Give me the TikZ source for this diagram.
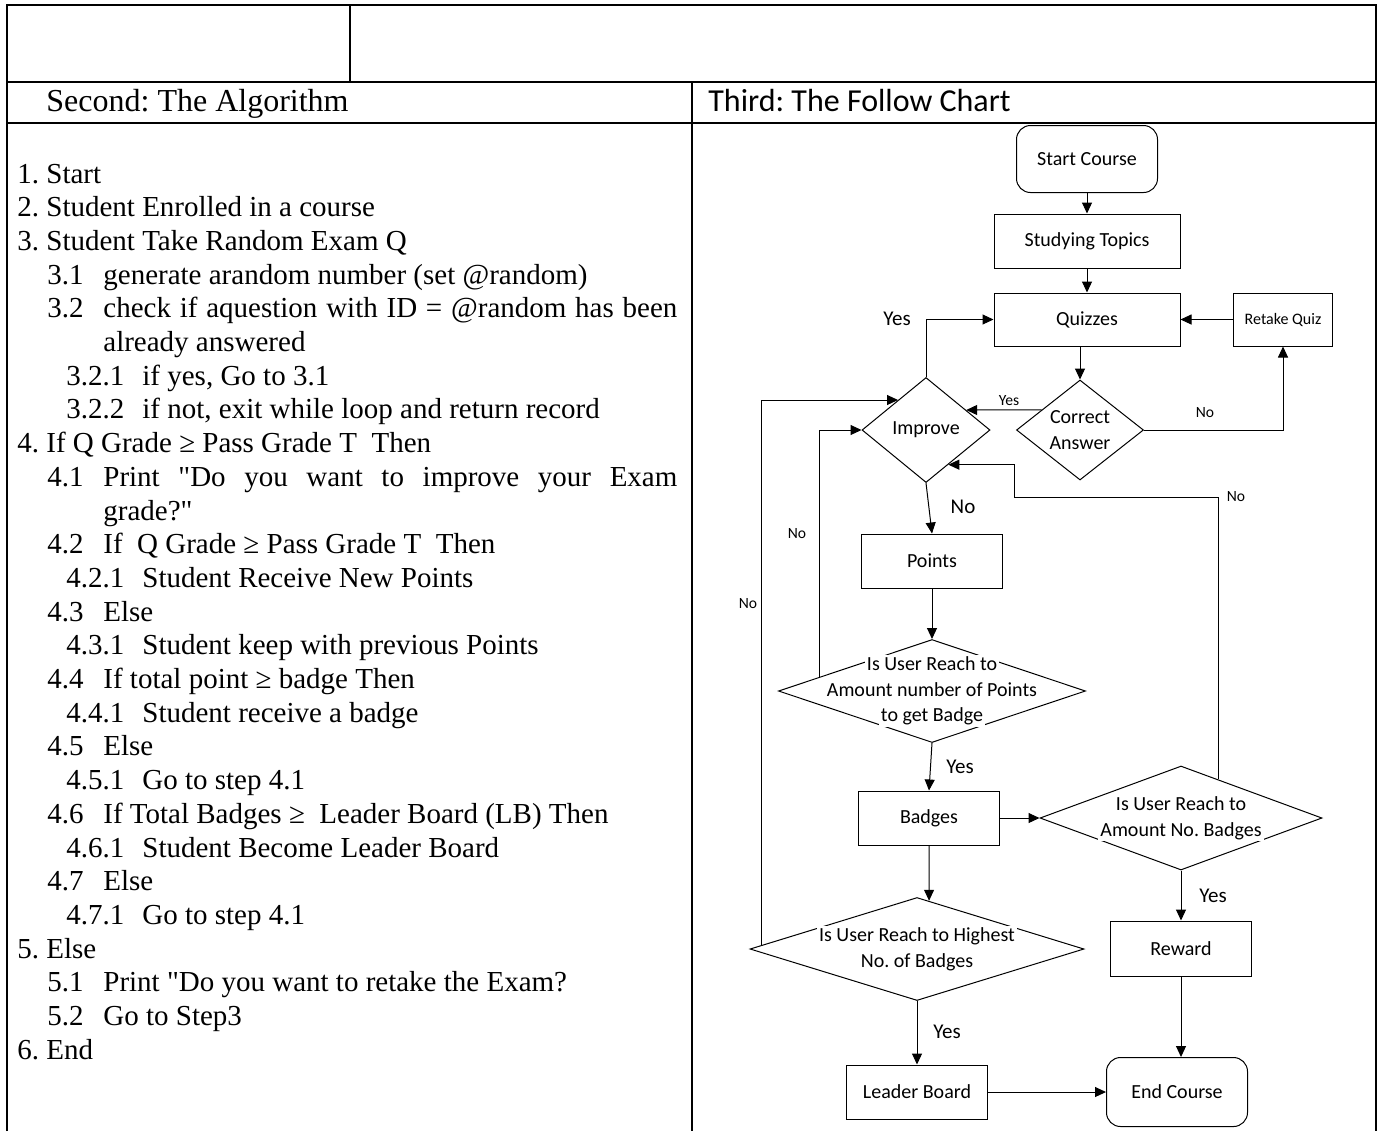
\documentclass[tikz,border=0pt]{standalone}
\usepackage{fontspec}
\setmainfont{Liberation Serif}
\newfontfamily\chartfont{Carlito}
\usetikzlibrary{shapes.geometric,arrows.meta,calc}
\frenchspacing

\newcommand{\stepB}[2]{\hspace*{15pt}\makebox[28pt][l]{#1}#2}
\newcommand{\stepC}[2]{\hspace*{24.5pt}\makebox[38pt][l]{#1}#2}
\newcommand{\stepMore}[1]{\hspace*{43pt}#1}
\newcommand{\wbox}[1]{\colorbox{white}{#1}}
\newcommand{\qt}{\XeTeXglyph\numexpr\XeTeXcharglyph"22\relax\relax}
\setlength{\fboxsep}{1pt}

\tikzset{
    tableline/.style={line width=1.2pt},
    algo/.style={anchor=base west, inner sep=0, font=\fontsize{14.5}{17}\selectfont},
    head/.style={anchor=base west, inner sep=0, font=\fontsize{16}{19}\selectfont},
    box/.style={draw, line width=0.5pt, inner sep=0, font=\chartfont\fontsize{10}{12.5}\selectfont},
    terminal/.style={box, rounded corners=7pt},
    decision/.style={draw, diamond, line width=0.5pt, inner sep=0},
    dtext/.style={inner sep=0, align=center, font=\chartfont\fontsize{10}{12.8}\selectfont},
    flow/.style={line width=0.5pt, -{Triangle[length=5.5pt,width=5pt]}},
    bigtag/.style={inner sep=0, font=\chartfont\fontsize{10.5}{12}\selectfont},
    tag/.style={inner sep=0, font=\chartfont\fontsize{7.8}{9}\selectfont},
}

\begin{document}
\begin{tikzpicture}[x=0.5pt, y=-0.5pt]
    \useasboundingbox (0,0) rectangle (1380,1131);

    % table frame
    \draw[tableline] (7,1131) -- (7,5) -- (1376,5) -- (1376,1131);
    \draw[tableline] (7,82) -- (1376,82);
    \draw[tableline] (7,123) -- (1376,123);
    \draw[tableline] (350,5) -- (350,82);
    \draw[tableline] (692,82) -- (692,1131);

    \node[head] (second) at (46,111) {Second: The Algorithm};
    \node[head, font=\chartfont\fontsize{16}{19}\selectfont] (third) at (708,111) {Third: The Follow Chart};

    % algorithm steps
    \node[algo] (a1) at (17,183) {1. Start};
    \node[algo] (a2) at (17,216.7) {2. Student Enrolled in a course};
    \node[algo] (a3) at (17,250.4) {3. Student Take Random Exam Q};
    \node[algo] (a4) at (17,284.1) {\stepB{3.1}{generate arandom number (set @random)}};
    \node[algo] (a5) at (17,317.8) {\stepB{3.2}{\makebox[287pt][s]{check if aquestion with ID = @random has been}}};
    \node[algo] (a6) at (17,351.5) {\stepMore{already answered}};
    \node[algo] (a7) at (17,385.2) {\stepC{3.2.1}{if yes, Go to 3.1}};
    \node[algo] (a8) at (17,418.9) {\stepC{3.2.2}{if not, exit while loop and return record}};
    \node[algo] (a9) at (17,452.6) {4. If Q Grade ≥ Pass Grade T~ Then};
    \node[algo] (a10) at (17,486.3) {\stepB{4.1}{\makebox[287pt][s]{Print \qt Do you want to improve your Exam}}};
    \node[algo] (a11) at (17,520) {\stepMore{grade?\qt}};
    \node[algo] (a12) at (17,553.7) {\stepB{4.2}{If~ Q Grade ≥ Pass Grade T~ Then}};
    \node[algo] (a13) at (17,587.4) {\stepC{4.2.1}{Student Receive New Points}};
    \node[algo] (a14) at (17,621.1) {\stepB{4.3}{Else}};
    \node[algo] (a15) at (17,654.8) {\stepC{4.3.1}{Student keep with previous Points}};
    \node[algo] (a16) at (17,688.5) {\stepB{4.4}{If total point ≥ badge Then}};
    \node[algo] (a17) at (17,722.2) {\stepC{4.4.1}{Student receive a badge}};
    \node[algo] (a18) at (17,755.9) {\stepB{4.5}{Else}};
    \node[algo] (a19) at (17,789.6) {\stepC{4.5.1}{Go to step 4.1}};
    \node[algo] (a20) at (17,823.3) {\stepB{4.6}{If Total Badges ≥~ Leader Board (LB) Then}};
    \node[algo] (a21) at (17,857) {\stepC{4.6.1}{Student Become Leader Board}};
    \node[algo] (a22) at (17,890.7) {\stepB{4.7}{Else}};
    \node[algo] (a23) at (17,924.4) {\stepC{4.7.1}{Go to step 4.1}};
    \node[algo] (a24) at (17,958.1) {5. Else};
    \node[algo] (a25) at (17,991.8) {\stepB{5.1}{Print \qt Do you want to retake the Exam?}};
    \node[algo] (a26) at (17,1025.5) {\stepB{5.2}{Go to Step3}};
    \node[algo] (a27) at (17,1059.2) {6. End};

    % flow chart
    \node[terminal, minimum width=70.5pt, minimum height=33.5pt] (start) at (1087,159) {Start Course};
    \node[box, minimum width=93pt, minimum height=27pt] (study) at (1087,241) {Studying Topics};
    \node[box, minimum width=93pt, minimum height=26.5pt] (quiz) at (1087,319.5) {Quizzes};
    \node[box, minimum width=49.5pt, minimum height=26.5pt, font=\chartfont\fontsize{8}{10}\selectfont] (retake) at (1283,319.5) {Retake Quiz};
    \node[decision, minimum width=63.5pt, minimum height=50pt] (correct) at (1080,430) {};
    \node[dtext] (correctT) at (correct) {Correct\\Answer};
    \node[decision, minimum width=64pt, minimum height=52.5pt] (improve) at (926,430) {};
    \node[dtext] (improveT) at (improve) {Improve};
    \node[box, minimum width=70.5pt, minimum height=27pt] (points) at (932,561) {Points};
    \node[decision, minimum width=153.5pt, minimum height=51.5pt] (hex) at (932,691) {};
    \node[dtext] (hexT) at (hex) {\wbox{Is User Reach to}\\\wbox{Amount number of Points}\\\wbox{to get Badge}};
    \node[box, minimum width=70.5pt, minimum height=27pt] (badges) at (929,818) {Badges};
    \node[decision, minimum width=141pt, minimum height=52pt] (amount) at (1181,818) {};
    \node[dtext] (amountT) at (amount) {\wbox{Is User Reach to}\\\wbox{Amount No. Badges}};
    \node[decision, minimum width=167pt, minimum height=51.5pt] (high) at (917,949) {};
    \node[dtext] (highT) at (high) {\wbox{Is User Reach to Highest}\\\wbox{No. of Badges}};
    \node[box, minimum width=70.5pt, minimum height=27.5pt] (reward) at (1181,948.5) {Reward};
    \node[box, minimum width=70.5pt, minimum height=27pt] (leader) at (917,1092) {Leader Board};
    \node[terminal, minimum width=70.5pt, minimum height=34.5pt] (finish) at (1177,1092) {End Course};

    \draw[flow] (start) -- (study);
    \draw[flow] (study) -- (quiz);
    \draw[flow] (correct.north |- quiz.south) -- (correct.north);
    \draw[flow] (retake) -- (quiz);
    \draw[flow] (correct.east) -| (retake.south);
    \draw[flow] ($(correct.west)!0.4!(correct.north)$) -- ($(improve.east)!0.377!(improve.north)$);
    \draw[flow] (improve.north) |- (quiz.west);
    \draw[flow] (improve.south) -- (points.north);
    \draw[flow] (points) -- (hex);
    \draw[flow] (hex.south) -- (badges.north);
    \draw[flow] (badges) -- (amount);
    \draw[flow] (badges.south) -- ($(high.north)!0.072!(high.east)$);
    \draw[flow] (amount) -- (reward);
    \draw[flow] (reward.south) -- (reward.south |- finish.north);
    \draw[flow] (high) -- (leader);
    \draw[flow] (leader) -- (finish);
    \draw[flow] ($(hex.west)!0.268!(hex.north)$) |- (improve.west);
    \draw[flow] ($(high.west)!0.071!(high.north)$) |- ($(improve.west)!0.566!(improve.north)$);
    \draw[flow] ($(amount.north)!0.262!(amount.east)$) |- ($(improve.east)!0.654!(improve.south)+(66,33)$)
        |- ($(improve.east)!0.654!(improve.south)$);

    % branch labels
    \node[tag] (yesCorrect) at (1009,401) {Yes};
    \node[tag] (noCorrect) at (1205,413) {No};
    \node[bigtag] (yesImprove) at (897,319) {Yes};
    \node[bigtag] (noImprove) at (963,507) {No};
    \node[tag] (noHex) at (797,534) {No};
    \node[tag] (noHigh) at (748,604) {No};
    \node[tag] (noAmount) at (1236,497) {No};
    \node[bigtag] (yesHex) at (960,767) {Yes};
    \node[bigtag] (yesAmount) at (1213,896) {Yes};
    \node[bigtag] (yesHigh) at (947,1032) {Yes};
\end{tikzpicture}
\end{document}
